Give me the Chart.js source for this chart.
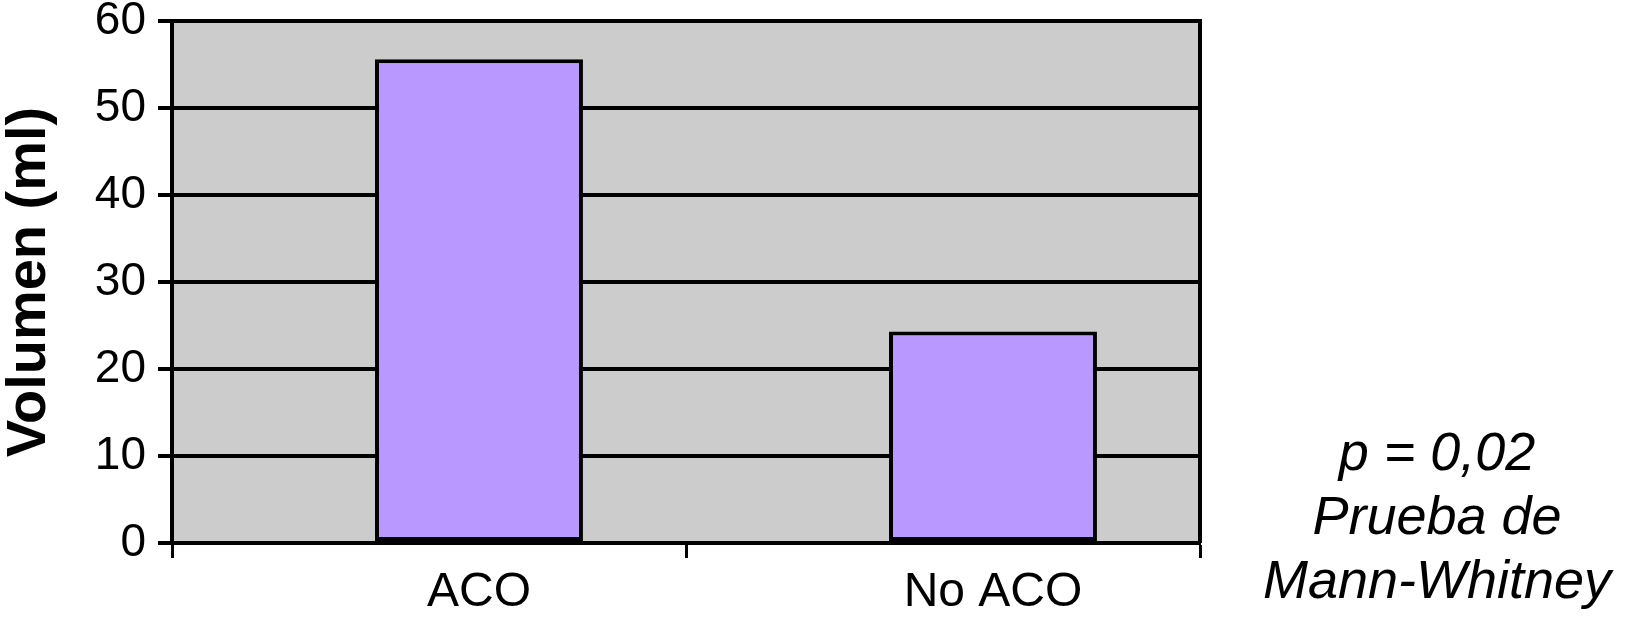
<!DOCTYPE html>
<html>
<head>
<meta charset="utf-8">
<script src="https://cdn.jsdelivr.net/npm/chart.js@4/dist/chart.umd.min.js"></script>
<style>
    html, body { margin: 0; padding: 0; background: #ffffff; }
    #wrap { width: 1625px; height: 618px; }
</style>
</head>
<body>
<div id="wrap"><canvas id="volChart" width="1625" height="618"></canvas></div>
<script>
// Data
const categories = ['ACO', 'No ACO'];
const volumeMl = [55.6, 24.3];
const yTicks = [0, 10, 20, 30, 40, 50, 60];
const yTitle = 'Volumen (ml)';
const noteLines = ['p = 0,02', 'Prueba de', 'Mann-Whitney'];

const FONT = '"Liberation Sans", Arial, Helvetica, sans-serif';

// grey plot area + right border of the frame
const plotFrame = {
    id: 'plotFrame',
    beforeDraw(chart) {
        const { ctx, chartArea: a } = chart;
        ctx.save();
        ctx.fillStyle = '#cccccc';
        ctx.fillRect(a.left, a.top, a.right - a.left, a.bottom - a.top);
        ctx.restore();
    },
    afterDraw(chart) {
        const { ctx, chartArea: a } = chart;
        ctx.save();
        ctx.strokeStyle = '#000000';
        ctx.lineWidth = 4;
        ctx.beginPath();
        ctx.moveTo(a.right, a.top - 2);
        ctx.lineTo(a.right, a.bottom);
        ctx.stroke();
        ctx.restore();
    }
};

// statistics note on the right side
const sideNote = {
    id: 'sideNote',
    afterDraw(chart) {
        const { ctx } = chart;
        ctx.save();
        ctx.fillStyle = '#000000';
        ctx.font = 'italic 54px ' + FONT;
        ctx.textAlign = 'center';
        ctx.textBaseline = 'middle';
        noteLines.forEach((t, i) => {
            ctx.fillText(t, 1437, 455 + i * 64);
        });
        ctx.restore();
    }
};

const ctx = document.getElementById('volChart').getContext('2d');

new Chart(ctx, {
    type: 'bar',
    data: {
        labels: categories,
        datasets: [
            {
                // empty slot so the bars sit right of the category centre, like the original
                label: '',
                data: categories.map(() => null),
                backgroundColor: 'rgba(0,0,0,0)',
                borderWidth: 0
            },
            {
                label: yTitle,
                data: volumeMl,
                backgroundColor: '#b999ff',
                borderColor: '#000000',
                borderWidth: 4,
                borderSkipped: false
            }
        ]
    },
    options: {
        responsive: false,
        devicePixelRatio: 1,
        animation: false,
        categoryPercentage: 0.389,
        barPercentage: 2.08,
        layout: { padding: { left: 0, right: 425, top: 21, bottom: 0 } },
        plugins: {
            legend: { display: false },
            tooltip: { enabled: false }
        },
        scales: {
            x: {
                offset: true,
                grid: {
                    offset: true,
                    drawOnChartArea: false,
                    drawTicks: true,
                    tickLength: 15,
                    tickWidth: 3,
                    tickColor: '#000000'
                },
                border: { display: true, color: '#000000', width: 4 },
                ticks: {
                    color: '#000000',
                    font: { family: FONT, size: 48 },
                    padding: 6,
                    labelOffset: 50,
                    maxRotation: 0
                },
                afterFit: (scale) => {
                    scale.height = 75;
                    scale.paddingLeft = 0;
                    scale.paddingRight = 0;
                }
            },
            y: {
                min: 0,
                max: 60,
                afterBuildTicks: (scale) => {
                    scale.ticks = yTicks.map(v => ({ value: v }));
                },
                grid: {
                    color: '#000000',
                    lineWidth: 4,
                    drawTicks: true,
                    tickLength: 14,
                    tickColor: '#000000'
                },
                border: { display: true, color: '#000000', width: 4 },
                ticks: {
                    color: '#000000',
                    font: { family: FONT, size: 46 },
                    padding: 12
                },
                title: {
                    display: true,
                    text: yTitle,
                    color: '#000000',
                    font: { family: FONT, size: 56, weight: 'bold', lineHeight: 1.05 },
                    padding: 0
                },
                afterFit: (scale) => {
                    scale.width = 172;
                    scale.paddingTop = 0;
                    scale.paddingBottom = 0;
                }
            }
        }
    },
    plugins: [plotFrame, sideNote]
});
</script>
</body>
</html>
